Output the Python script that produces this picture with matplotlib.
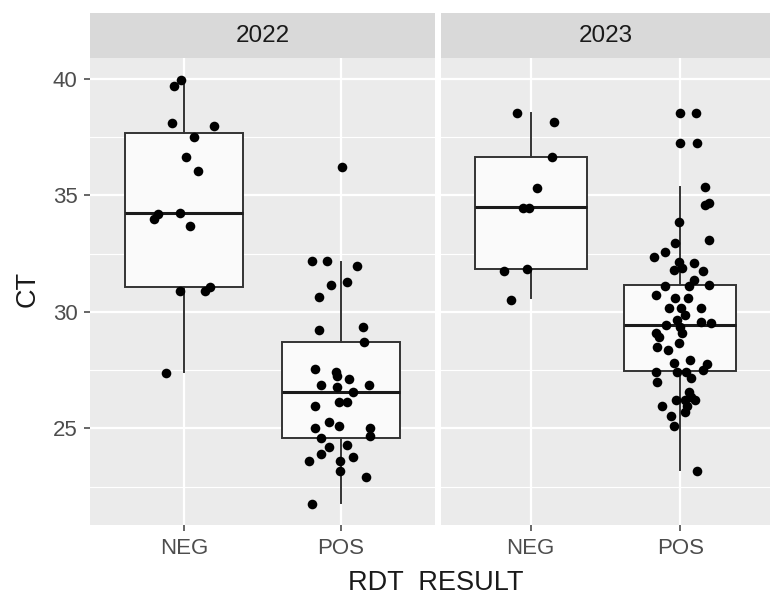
import matplotlib
matplotlib.use("Agg")
import matplotlib.pyplot as plt
import numpy as np

plt.rcParams['font.family'] = ['Liberation Sans', 'DejaVu Sans']

years = ["2022", "2023"]
categories = ["NEG", "POS"]
y_ticks = [25, 30, 35, 40]

# CT values, with horizontal jitter offsets (category units)
ct_2022_neg = [39.96, 39.7, 38.1, 37.98, 37.5, 36.64, 36.05, 34.2, 34.0, 34.26, 33.7,
               30.9, 30.9, 31.05, 27.37]
jit_2022_neg = [-0.021, -0.064, -0.075, 0.193, 0.064, 0.015, 0.09, -0.167, -0.189,
                -0.024, 0.036, -0.028, 0.133, 0.165, -0.114]
ct_2022_pos = [36.24, 32.19, 32.19, 31.99, 31.16, 31.27, 30.66, 29.23, 29.33, 28.71,
               27.54, 27.44, 27.25, 27.12, 26.87, 26.77, 26.87, 26.58, 26.12, 26.12,
               25.94, 25.29, 25.1, 25.03, 25.03, 24.68, 24.6, 24.27, 24.2, 23.91,
               23.79, 23.61, 23.61, 23.15, 22.93, 21.74]
jit_2022_pos = [0.006, -0.182, -0.09, 0.101, -0.066, 0.036, -0.141, -0.141, 0.139,
                0.15, -0.167, -0.032, -0.026, 0.05, -0.128, -0.026, 0.176, 0.075,
                -0.011, 0.036, -0.167, -0.079, -0.015, -0.167, 0.186, 0.186, -0.128,
                0.036, -0.079, -0.128, 0.075, -0.203, -0.006, -0.006, 0.161, -0.182]
ct_2023_neg = [38.53, 38.17, 36.64, 35.3, 34.45, 34.45, 31.77, 31.83, 30.49]
jit_2023_neg = [-0.09, 0.154, 0.139, 0.039, -0.054, -0.011, -0.178, -0.026, -0.129]
ct_2023_pos = [38.53, 38.53, 37.24, 37.24, 35.38, 34.59, 34.69, 33.85, 33.09, 32.95,
               32.59, 32.35, 32.16, 32.12, 31.8, 31.77, 31.87, 31.37, 31.09, 31.09,
               31.16, 30.73, 30.59, 30.59, 30.16, 30.16, 30.16, 29.87, 29.66, 29.58,
               29.51, 29.44, 29.37, 29.09, 28.94, 29.09, 28.66, 28.48, 28.37, 27.94,
               27.8, 27.77, 27.51, 27.44, 27.44, 27.44, 27.15, 26.97, 26.58, 26.36,
               26.22, 26.22, 26.22, 25.94, 25.94, 25.72, 25.51, 25.11, 23.15]
jit_2023_pos = [0.0, 0.103, 0.0, 0.114, 0.165, 0.165, 0.193, -0.011, 0.193, -0.036,
                -0.101, -0.178, -0.011, 0.09, -0.043, 0.15, 0.011, 0.09, 0.06, -0.101,
                0.193, -0.165, -0.036, 0.054, -0.075, 0.004, 0.139, 0.032, -0.021,
                0.139, 0.204, -0.096, 0.0, -0.161, -0.139, 0.011, -0.011, -0.154,
                -0.079, 0.064, -0.043, 0.178, 0.15, -0.161, -0.021, 0.039, 0.075,
                -0.154, 0.06, 0.075, -0.028, 0.032, 0.096, 0.043, -0.124, 0.032,
                -0.064, -0.039, 0.114]

# Box statistics: whislo, q1, median, q3, whishi
box_2022 = [(27.44, 31.06, 34.24, 37.67, 39.96), (21.79, 24.6, 26.58, 28.71, 32.16)]
box_2023 = [(30.59, 31.83, 34.52, 36.64, 38.53), (23.22, 27.47, 29.44, 31.16, 35.38)]

points = {
    "2022": [(ct_2022_neg, jit_2022_neg), (ct_2022_pos, jit_2022_pos)],
    "2023": [(ct_2023_neg, jit_2023_neg), (ct_2023_pos, jit_2023_pos)],
}
boxes = {"2022": box_2022, "2023": box_2023}

fig = plt.figure(figsize=(7.71, 5.98), dpi=100)
fig.patch.set_facecolor("white")

W, H = 771, 598
panels = [(90, 435), (441, 770)]
ptop, pbot = 58, 525
strip_top = 13

for i, (yr, (x0, x1)) in enumerate(zip(years, panels)):
    ax = fig.add_axes([x0 / W, 1 - pbot / H, (x1 - x0) / W, (pbot - ptop) / H])
    ax.set_facecolor("#EBEBEB")
    for s in ax.spines.values():
        s.set_visible(False)
    ax.set_xlim(0.4, 2.6)
    ax.set_ylim(20.85, 40.9)
    # grid
    for v in y_ticks:
        ax.axhline(v, color="white", lw=1.6, zorder=0)
    for v in [22.5, 27.5, 32.5, 37.5]:
        ax.axhline(v, color="white", lw=0.8, zorder=0)
    for v in [1, 2]:
        ax.axvline(v, color="white", lw=1.6, zorder=0)

    stats = []
    for (lo, q1, med, q3, hi) in boxes[yr]:
        stats.append(dict(whislo=lo, q1=q1, med=med, q3=q3, whishi=hi, fliers=[]))
    ax.bxp(stats, positions=[1, 2], widths=0.75, patch_artist=True, showcaps=False,
           boxprops=dict(facecolor="#FAFAFA", edgecolor="#333333", lw=1.4),
           whiskerprops=dict(color="#333333", lw=1.4),
           medianprops=dict(color="#1A1A1A", lw=2.2), zorder=2)

    for k, (vals, jit) in enumerate(points[yr]):
        xs = (k + 1) + np.asarray(jit)
        ax.scatter(xs, vals, s=48, color="black", zorder=3, linewidths=0)

    ax.set_xticks([1, 2])
    ax.set_xticklabels(categories)
    ax.tick_params(axis="x", colors="#4D4D4D", length=4, width=1.2, labelsize=16,
                   labelcolor="#4D4D4D", pad=5)
    ax.set_yticks(y_ticks)
    if i == 0:
        ax.tick_params(axis="y", colors="#4D4D4D", length=4, width=1.2, labelsize=16,
                       labelcolor="#4D4D4D", pad=5)
    else:
        ax.tick_params(axis="y", length=0, labelleft=False)

    # strip
    sax = fig.add_axes([x0 / W, 1 - ptop / H, (x1 - x0) / W, (ptop - strip_top) / H])
    sax.set_facecolor("#D9D9D9")
    sax.set_xticks([])
    sax.set_yticks([])
    for s in sax.spines.values():
        s.set_visible(False)
    sax.text(0.5, 0.5, yr, ha="center", va="center", fontsize=17.5, color="#1A1A1A",
             transform=sax.transAxes)

fig.text(27.5 / W, 1 - 289 / H, "CT", rotation=90, ha="center", va="center",
         fontsize=19.5, color="#1A1A1A")
fig.text(436 / W, 1 - 583 / H, "RDT  RESULT", ha="center", va="center",
         fontsize=19.5, color="#1A1A1A")

fig.savefig("out.png", dpi=100)
